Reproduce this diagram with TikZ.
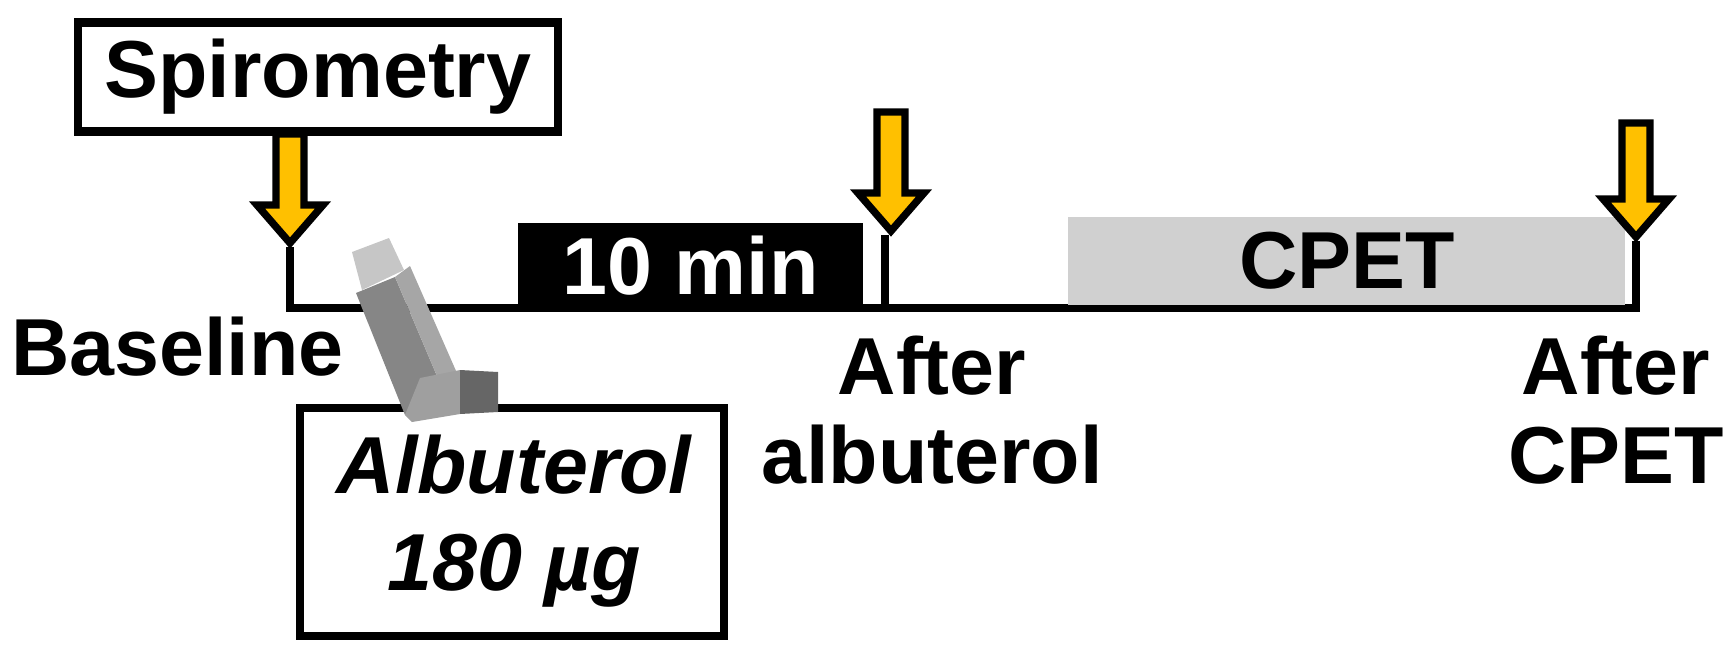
\documentclass[tikz,border=0pt]{standalone}
\usepackage{fontspec}
\setmainfont{Liberation Sans}
\begin{document}
\begin{tikzpicture}[x=0.02cm,y=-0.02cm,
  lbl/.style={font=\fontsize{46}{51}\selectfont\bfseries,inner sep=0pt,align=center},
  ya/.style={fill={rgb,255:red,255;green,192;blue,0},draw=black,line width=4.2pt,line join=miter},
  bx/.style={draw,line width=4.6pt,inner sep=0pt},
  tl/.style={line width=5pt}]
\useasboundingbox (0,0) rectangle (1727,660);
% Spirometry
\node[bx,minimum width=273pt,minimum height=62pt,lbl] (sp) at (318,77) {Spirometry};
% timeline
\coordinate (t1) at (290,247);
\coordinate (t2) at (885,235);
\coordinate (t3) at (1636,241);
\coordinate (b2) at (885,308);
\draw[tl] (t1) |- (b2) -- (t2);
\draw[tl] (b2) -| (t3);
% boxes
\node[fill=black,minimum width=196pt,minimum height=49pt,inner sep=0pt,anchor=south west,text=white,lbl] (ten) at (518,309) {10 min};
\node[fill={rgb,255:red,208;green,208;blue,208},minimum width=317pt,minimum height=50pt,inner sep=0pt,anchor=south west,lbl] (cpet) at (1068,305) {CPET};
% arrows
\foreach \x/\t/\b in {290/134/243,891/112/231,1636/123/237}{
  \draw[ya] (\x-14,\t) -- (\x+14,\t) -- (\x+14,\b-38) -- (\x+33,\b-38) -- (\x,\b) -- (\x-33,\b-38) -- (\x-14,\b-38) -- cycle;
}
% labels
\node[lbl,anchor=west] (base) at (11,347) {Baseline};
\node[lbl] (aa) at (932,410) {After\\albuterol};
\node[lbl] (ac) at (1616,410) {After\\CPET};
\node[bx,minimum width=241pt,minimum height=130pt] (alb) at (512,522) {};
\node[lbl,font=\fontsize{46}{55}\selectfont\bfseries\itshape] (albt) at (514,521) {Albuterol\\180 µg};
% inhaler
\fill[gray!45] (352,252) -- (389,238) -- (404,270) -- (362,290) -- cycle;
\fill[gray!95] (356,293) -- (395,277) -- (445,395) -- (405,415) -- cycle;
\fill[gray!70] (395,277) -- (410,266) -- (460,380) -- (445,395) -- cycle;
\fill[gray!75] (405,415) -- (420,378) -- (460,370) -- (460,414) -- (412,422) -- cycle;
\fill[black!60] (460,370) -- (498,372) -- (498,412) -- (460,414) -- cycle;
\end{tikzpicture}
\end{document}
